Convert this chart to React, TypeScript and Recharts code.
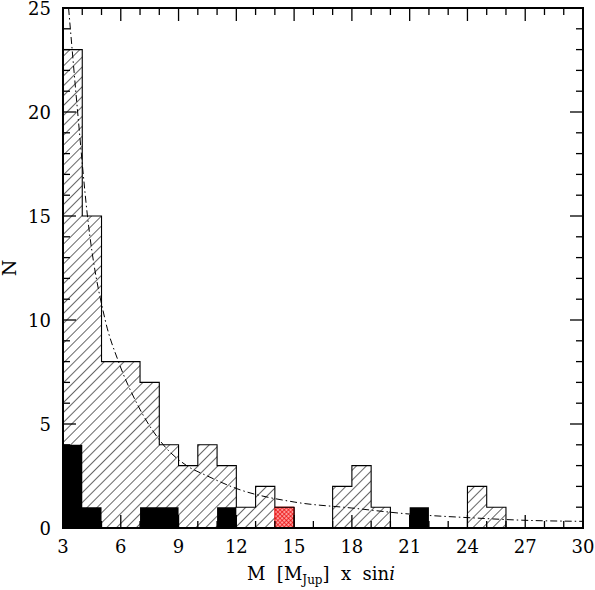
import { ComposedChart, Area, Line, XAxis, YAxis, ReferenceArea } from 'recharts'

// bin left edges (bin width 1 M_Jup), last entry closes the step
const BIN_EDGES = [3, 4, 5, 6, 7, 8, 9, 10, 11, 12, 13, 14, 15, 16, 17, 18, 19, 20, 21, 22, 23, 24, 25, 26, 27, 28, 29, 30]
const ALL_COUNTS = [23, 15, 8, 8, 7, 4, 3, 4, 3, 1, 2, 1, 0, 0, 2, 3, 1, 0, 0, 0, 0, 2, 1, 0, 0, 0, 0, 0]
const BLACK_COUNTS = [4, 1, 0, 0, 1, 1, 0, 0, 1, 0, 0, 0, 0, 0, 0, 0, 0, 0, 1, 0, 0, 0, 0, 0, 0, 0, 0, 0]
const RED_COUNTS = [0, 0, 0, 0, 0, 0, 0, 0, 0, 0, 0, 1, 0, 0, 0, 0, 0, 0, 0, 0, 0, 0, 0, 0, 0, 0, 0, 0]

// dash-dot fit curve
const CURVE_M = [3.29, 3.76, 4.27, 5.19, 5.88, 6.83, 8.21, 9.42, 10.5, 12, 15, 18, 21, 24, 27, 30]
const CURVE_N = [25, 20, 15, 10, 8, 6, 4, 3, 2.5, 1.9, 1.25, 0.96, 0.67, 0.5, 0.37, 0.32]

const X_TICKS = [3, 4, 5, 6, 7, 8, 9, 10, 11, 12, 13, 14, 15, 16, 17, 18, 19, 20, 21, 22, 23, 24, 25, 26, 27, 28, 29, 30]
const Y_TICKS = [0, 1, 2, 3, 4, 5, 6, 7, 8, 9, 10, 11, 12, 13, 14, 15, 16, 17, 18, 19, 20, 21, 22, 23, 24, 25]

const data = BIN_EDGES.map((m, i) => ({
  m,
  all: ALL_COUNTS[i],
  black: BLACK_COUNTS[i],
  red: RED_COUNTS[i],
}))
const curve = CURVE_M.map((m, i) => ({ m, n: CURVE_N[i] }))

const W = 595
const H = 590
const TOP = 8
const LEFT = 63
const RIGHT = 583
const BOTTOM = 528
const FONT = '"DejaVu Serif", serif'

const XTick = (props: any) => {
  const { x, y, payload } = props
  const v = payload.value
  const major = v % 3 === 0
  const len = major ? 13 : 7
  return (
    <g>
      <line x1={x} x2={x} y1={y} y2={y - len} stroke="#000" strokeWidth={1.3} />
      <line x1={x} x2={x} y1={TOP} y2={TOP + len} stroke="#000" strokeWidth={1.3} />
      {major && (
        <text x={x} y={y + 25} textAnchor="middle" fontFamily={FONT} fontSize={18} fill="#000">
          {v}
        </text>
      )}
    </g>
  )
}

const YTick = (props: any) => {
  const { x, y, payload } = props
  const v = payload.value
  const major = v % 5 === 0
  const len = major ? 13 : 7
  return (
    <g>
      <line x1={x} x2={x + len} y1={y} y2={y} stroke="#000" strokeWidth={1.3} />
      <line x1={RIGHT} x2={RIGHT - len} y1={y} y2={y} stroke="#000" strokeWidth={1.3} />
      {major && (
        <text x={x - 12} y={y + 6.5} textAnchor="end" fontFamily={FONT} fontSize={18} fill="#000">
          {v}
        </text>
      )}
    </g>
  )
}

const XLabel = (props: any) => {
  const vb = props.viewBox || {}
  const cx = vb.x + vb.width / 2
  return (
    <text x={cx - 2} y={580} textAnchor="middle" fontFamily={FONT} fontSize={18} fill="#000" style={{ whiteSpace: 'pre' }}>
      {'M  [M'}
      <tspan fontSize={12} dy={4}>Jup</tspan>
      <tspan dy={-4}>{']  x  sin'}</tspan>
      <tspan fontStyle="italic">i</tspan>
    </text>
  )
}

const YLabel = () => {
  const cy = (TOP + BOTTOM) / 2
  return (
    <text x={9} y={cy} textAnchor="middle" dominantBaseline="central" fontFamily={FONT} fontSize={19} fill="#000" transform={`rotate(-90, 9, ${cy})`}>
      N
    </text>
  )
}

export default function App() {
  return (
    <div style={{ position: 'absolute', left: 0, top: 0, background: '#fff' }}>
      <ComposedChart width={W} height={H} data={data} margin={{ top: TOP, right: W - RIGHT, bottom: 0, left: 0 }}>
        <defs>
          <pattern id="hatch" patternUnits="userSpaceOnUse" width={7} height={7} patternTransform="rotate(45)">
            <line x1={0} y1={0} x2={0} y2={7} stroke="#000" strokeWidth={1.2} />
          </pattern>
          <pattern id="redHatch" patternUnits="userSpaceOnUse" width={3} height={3} patternTransform="rotate(45)">
            <rect width={3} height={3} fill="#ff9a9a" />
            <line x1={0} y1={0} x2={0} y2={3} stroke="#e80000" strokeWidth={1.3} />
            <line x1={0} y1={0} x2={3} y2={0} stroke="#e80000" strokeWidth={1.3} />
          </pattern>
        </defs>
        <XAxis
          dataKey="m"
          type="number"
          domain={[3, 30]}
          ticks={X_TICKS}
          interval={0}
          height={H - BOTTOM}
          axisLine={false}
          tickLine={false}
          tickSize={0}
          tickMargin={0}
          tick={<XTick />}
          label={XLabel}
          allowDataOverflow
        />
        <YAxis
          type="number"
          domain={[0, 25]}
          ticks={Y_TICKS}
          interval={0}
          width={LEFT}
          axisLine={false}
          tickLine={false}
          tickSize={0}
          tickMargin={0}
          tick={<YTick />}
          label={YLabel}
          allowDataOverflow
        />
        <Area type="stepAfter" dataKey="all" fill="url(#hatch)" fillOpacity={1} stroke="none" isAnimationActive={false} />
        <Area type="stepAfter" dataKey="black" fill="#000" fillOpacity={1} stroke="none" isAnimationActive={false} />
        <Area type="stepAfter" dataKey="red" fill="url(#redHatch)" fillOpacity={1} stroke="#e00000" strokeWidth={1} isAnimationActive={false} />
        <Line type="stepAfter" dataKey="all" stroke="#000" strokeWidth={1.1} dot={false} activeDot={false} isAnimationActive={false} />
        <Line
          data={curve}
          type="monotone"
          dataKey="n"
          stroke="#000"
          strokeWidth={1}
          strokeDasharray="7 3 1.5 3"
          dot={false}
          activeDot={false}
          isAnimationActive={false}
        />
        <ReferenceArea x1={3} x2={30} y1={0} y2={25} fill="none" stroke="#000" strokeWidth={2} ifOverflow="visible" />
      </ComposedChart>
    </div>
  )
}
